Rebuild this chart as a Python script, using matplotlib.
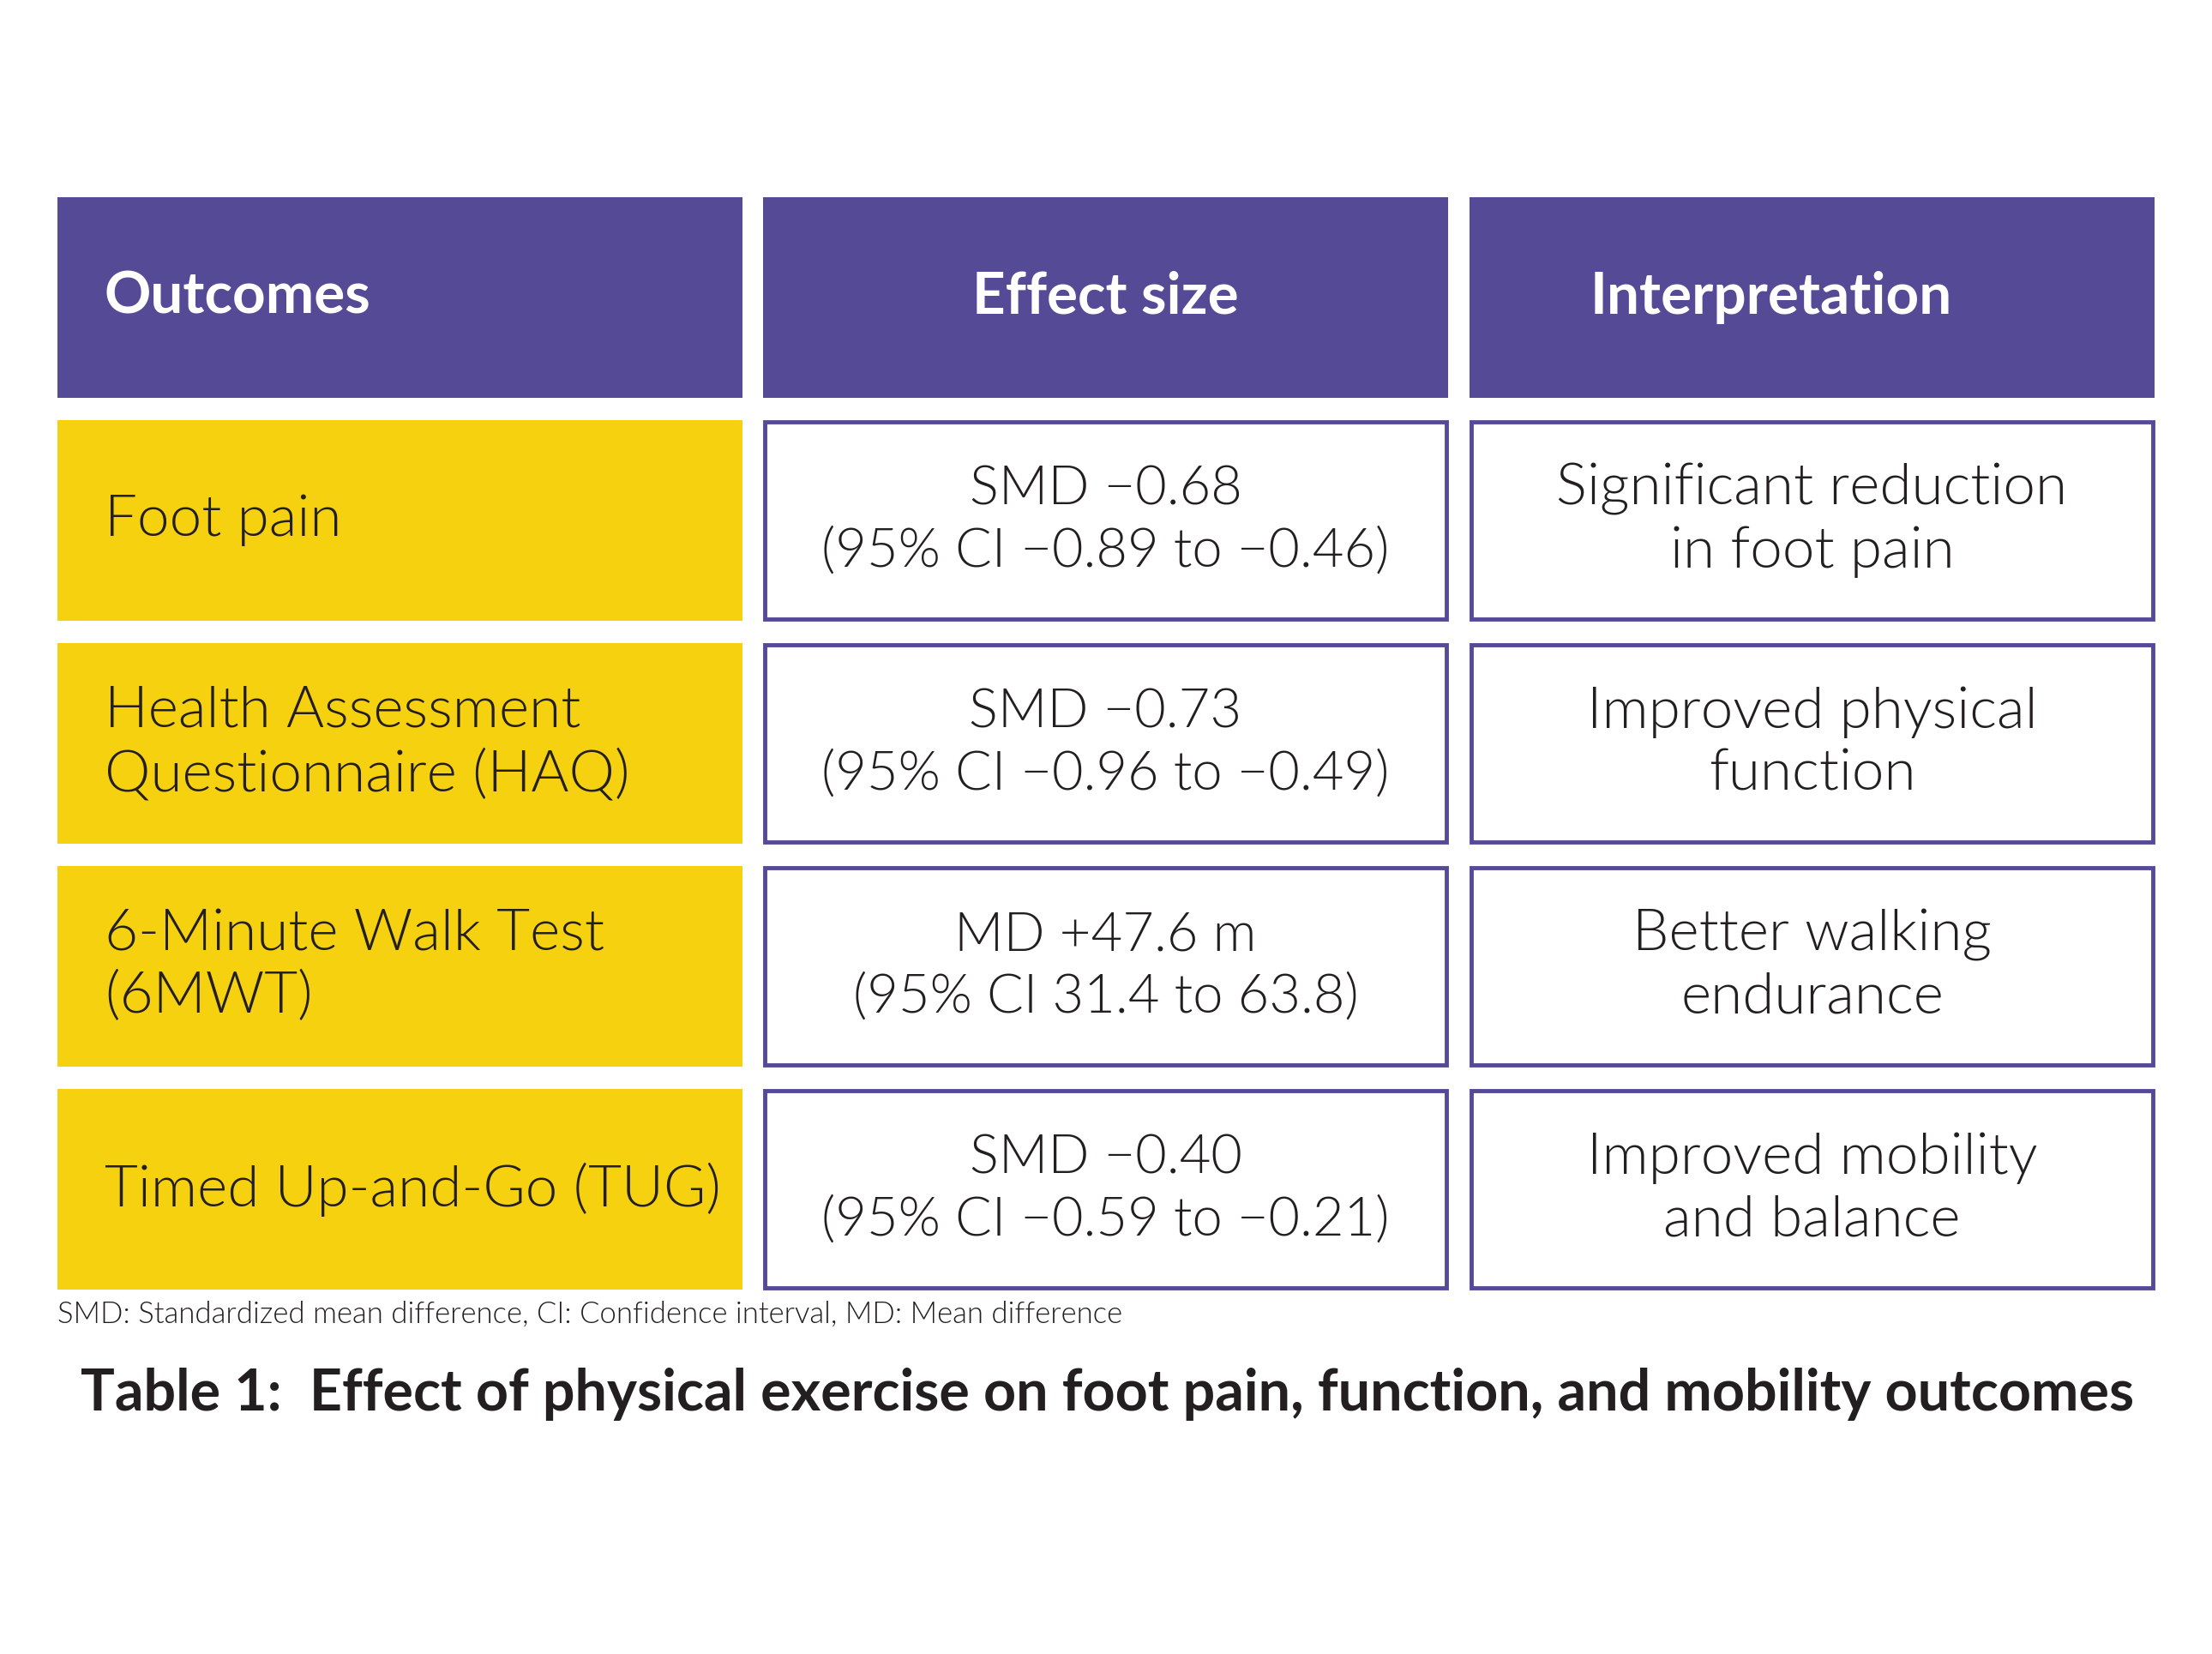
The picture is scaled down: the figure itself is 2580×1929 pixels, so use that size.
import matplotlib
matplotlib.use("Agg")
import matplotlib.pyplot as plt
from matplotlib.patches import Rectangle

# table content
headers = ["Outcomes", "Effect size", "Interpretation"]
outcomes = ["Foot pain", "Health Assessment\nQuestionnaire (HAQ)",
            "6-Minute Walk Test\n(6MWT)", "Timed Up-and-Go (TUG)"]
effect_sizes = ["SMD \u22120.68\n(95% CI \u22120.89 to \u22120.46)",
                "SMD \u22120.73\n(95% CI \u22120.96 to \u22120.49)",
                "MD +47.6 m\n(95% CI 31.4 to 63.8)",
                "SMD \u22120.40\n(95% CI \u22120.59 to \u22120.21)"]
interpretations = ["Significant reduction\nin foot pain",
                   "Improved physical\nfunction",
                   "Better walking\nendurance",
                   "Improved mobility\nand balance"]
footnote = "SMD: Standardized mean difference, CI: Confidence interval, MD: Mean difference"
title = "Table 1:  Effect of physical exercise on foot pain, function, and mobility outcomes"

PURPLE = "#554a96"
YELLOW = "#f6d110"
TEXT = "#231f20"
FONT = "Lato"
BODY_WEIGHT = 300

W, H = 2580, 1929
fig = plt.figure(figsize=(W / 100, H / 100), dpi=100)
ax = fig.add_axes([0, 0, 1, 1])
ax.set_xlim(0, W)
ax.set_ylim(H, 0)
ax.axis("off")

col_x = [67, 890, 1714]
col_w = 799
row_y = [230, 490, 750, 1010, 1270]
row_h = 234

# header row
for j, h in enumerate(headers):
    ax.add_patch(Rectangle((col_x[j], row_y[0]), col_w, row_h, facecolor=PURPLE,
                           edgecolor="none"))
    if j == 0:
        ax.text(col_x[j] + 55, row_y[0] + row_h / 2, h, ha="left", va="center",
                color="white", fontsize=48.5, fontweight="bold", family=FONT)
    else:
        cx = col_x[j] + col_w / 2 - (48 if j == 2 else 0)
        ax.text(cx, row_y[0] + row_h / 2, h, ha="center", va="center",
                color="white", fontsize=48.5, fontweight="bold", family=FONT)

# body rows
for i in range(len(outcomes)):
    y0 = row_y[i + 1]
    yc = y0 + row_h / 2
    ax.add_patch(Rectangle((col_x[0], y0), col_w, row_h, facecolor=YELLOW,
                           edgecolor="none"))
    ax.text(col_x[0] + 55, yc, outcomes[i], ha="left", va="center", color=TEXT,
            fontsize=48.5, fontweight=BODY_WEIGHT, family=FONT, linespacing=1.26)
    for j, txt, fs, ls in ((1, effect_sizes[i], 45.5, 1.33),
                           (2, interpretations[i], 48.5, 1.26)):
        ax.add_patch(Rectangle((col_x[j] + 2, y0 + 2), col_w - 4, row_h - 4,
                               facecolor="white", edgecolor=PURPLE, linewidth=3.5))
        ax.text(col_x[j] + col_w / 2, yc, txt, ha="center", va="center",
                color=TEXT, fontsize=fs, fontweight=BODY_WEIGHT, family=FONT,
                linespacing=ls)

ax.text(col_x[0], 1533, footnote, ha="left", va="center", color=TEXT,
        fontsize=25, fontweight=BODY_WEIGHT, family=FONT)
ax.text(W / 2 + 2, 1626, title, ha="center", va="center", color=TEXT,
        fontsize=47.8, fontweight="bold", family=FONT)

fig.savefig("out.png", dpi=100, facecolor="white")
